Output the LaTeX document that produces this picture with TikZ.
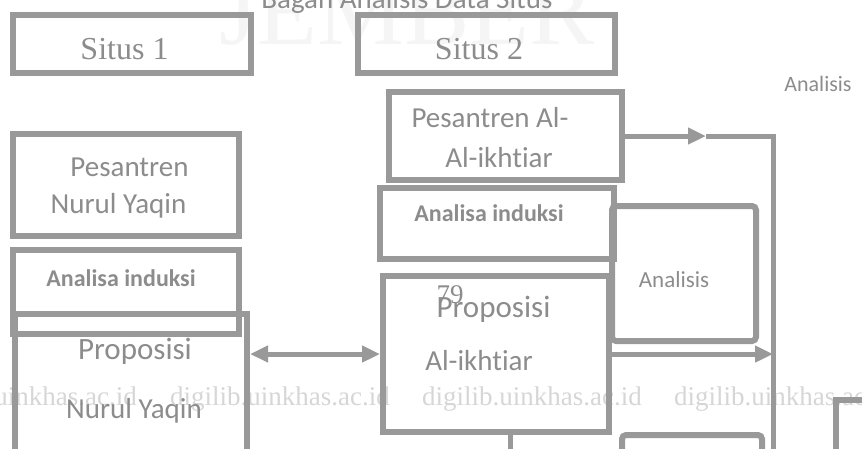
\documentclass[tikz,border=0pt]{standalone}
\usepackage{fontspec}
\usepackage{tikz}
\usetikzlibrary{arrows.meta,positioning,calc}
\newfontfamily\carlito[Ligatures=NoCommon]{Carlito}
\newfontfamily\serifmain{Liberation Serif}
\definecolor{linegray}{RGB}{153,153,153}
\definecolor{textgray}{RGB}{140,140,140}
\definecolor{markgray}{RGB}{214,214,214}

\begin{document}
\begin{tikzpicture}[
  x=1pt, y=-1pt,
  box/.style={rectangle,draw=linegray,line width=6pt,inner sep=0pt},
  rbox/.style={box,rounded corners=4pt},
  arr/.style={-{Triangle[length=18pt,width=16pt]},draw=linegray,line width=5pt},
  dblarr/.style={{Triangle[length=18pt,width=16pt]}-{Triangle[length=18pt,width=16pt]},draw=linegray,line width=5pt},
  bus/.style={draw=linegray,line width=5pt},
  txt/.style={text=textgray,inner sep=0pt,anchor=base,font=\carlito\fontsize{29}{34}\selectfont},
  btxt/.style={txt,font=\carlito\bfseries\fontsize{24}{28}\selectfont},
  stxt/.style={txt,font=\serifmain\fontsize{32}{38}\selectfont},
  wm/.style={text=markgray,inner sep=0pt,anchor=base west,font=\serifmain\fontsize{27}{32}\selectfont}
]
\useasboundingbox (0,0) rectangle (862,448);
\clip (0,0) rectangle (862,448);

% background marks
\node[anchor=base west,inner sep=0pt,text=black!4,font=\serifmain\fontsize{98}{98}\selectfont] (jember) at (219,44) {JEMBER};
\foreach \wx [count=\i] in {-83,170,422,674}
  \node[wm] (wm\i) at (\wx,405) {digilib.uinkhas.ac.id};

\node[txt] (title) at (407,8) {Bagan Analisis Data Situs};

% situs 1
\node[box,minimum width=238pt,minimum height=58pt] (situsA) at (132,44) {};
\node[box,minimum width=226pt,minimum height=102pt] (pesNY) at (126,185) {};
\node[box,minimum width=226pt,minimum height=84pt] (indNY) at (126,292) {};
\node[box,minimum width=232pt,minimum height=156pt] (propNY) at (131,392) {};
\node[stxt] (tSitusA) at (124.5,59) {Situs 1};
\node[txt] (tPesNY) at (129.5,176) {Pesantren};
\node[txt] (tNurulA) at (118.5,213) {Nurul Yaqin};
\node[btxt] (tIndNY) at (121,286) {Analisa induksi};
\node[txt,font=\carlito\fontsize{31}{36}\selectfont] (tPropNY) at (135,359) {Proposisi};
\node[txt] (tNurulB) at (134,418) {Nurul Yaqin};

% situs 2
\node[box,minimum width=257pt,minimum height=58pt] (situsB) at (486.5,44) {};
\node[box,minimum width=233pt,minimum height=88pt] (pesAI) at (505.5,136) {};
\node[box,minimum width=234pt,minimum height=71pt] (indAI) at (497,223.5) {};
\node[rbox,minimum width=144pt,minimum height=135pt] (anaBox) at (684,273.5) {};
\node[box,minimum width=226pt,minimum height=156pt] (propAI) at (496,354) {};
\node[stxt] (tSitusB) at (479,59) {Situs 2};
\node[txt] (tPesAI) at (490,127) {Pesantren Al-};
\node[txt] (tIkhA) at (499,167) {Al-ikhtiar};
\node[btxt] (tIndAI) at (489,221) {Analisa induksi};
\node[txt,font=\carlito\fontsize{23}{28}\selectfont] (tAnaBox) at (674,287) {Analisis};
\node[txt,font=\serifmain\fontsize{27}{32}\selectfont] (tPage) at (450,303) {79};
\node[txt,font=\carlito\fontsize{31}{36}\selectfont] (tPropAI) at (493.5,317) {Proposisi};
\node[txt] (tIkhB) at (479,370) {Al-ikhtiar};

% right side
\node[txt,font=\carlito\fontsize{22}{26}\selectfont] (tAnaTop) at (818,91) {Analisis};
\node[rbox,minimum width=140pt,minimum height=90pt] (botB) at (692,480) {};
\node[box,minimum width=100pt,minimum height=100pt] (botC) at (886,450) {};

\coordinate (pesTip) at (706,136);
\coordinate (busTop) at (773,136);
\coordinate (busEnd) at (773,470);
\coordinate (downEnd) at (510,470);

\draw[dblarr] (propNY.east |- propAI.west) -- (propAI.west);
\draw[arr] (pesAI.east) -- (pesTip);
\draw[bus] (pesTip) -- (busTop) -- (busEnd);
\draw[arr] (propAI.east) -- (propAI.east -| busTop);
\draw[bus] (propAI.south -| downEnd) -- (downEnd);
\end{tikzpicture}
\end{document}
